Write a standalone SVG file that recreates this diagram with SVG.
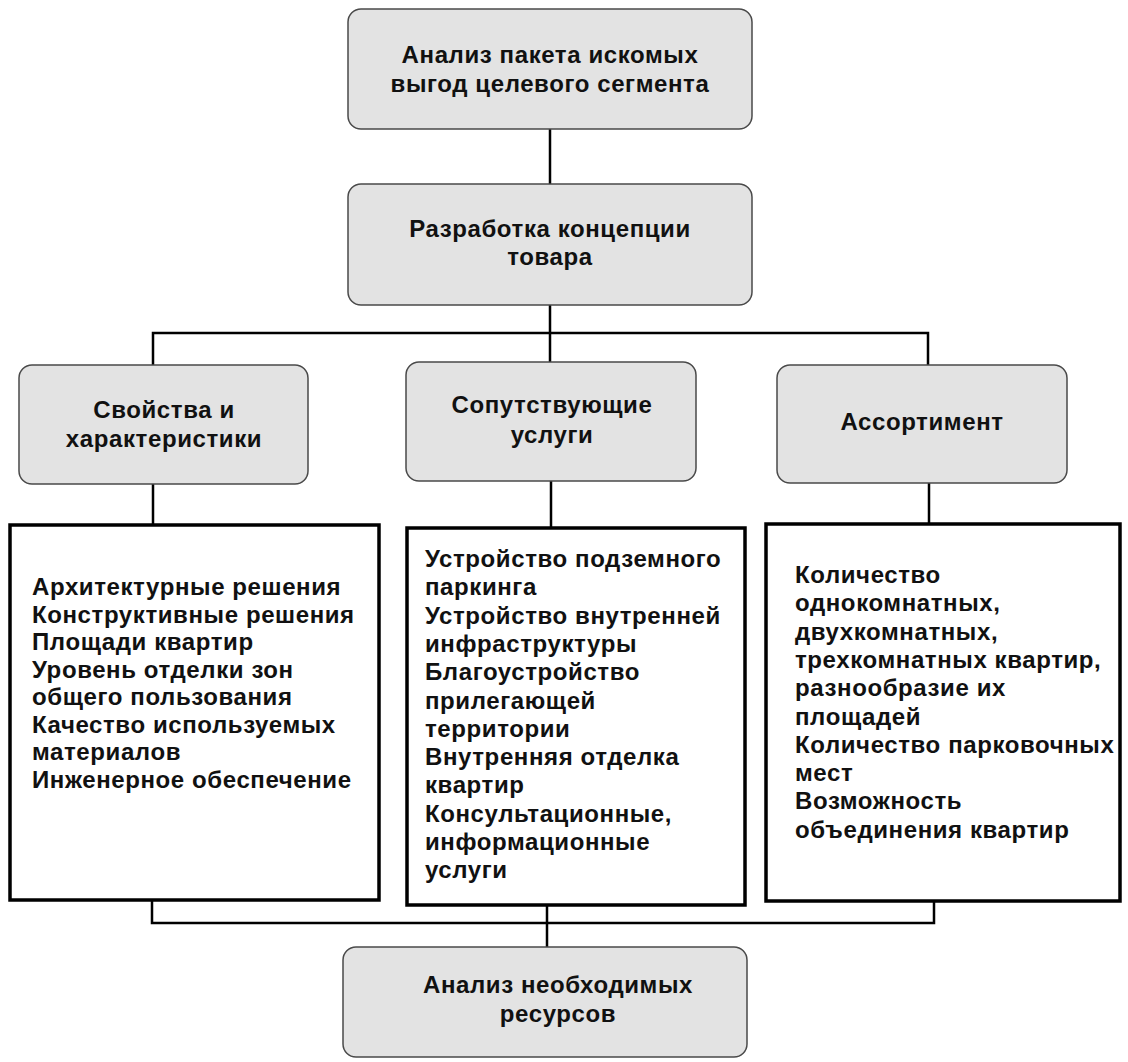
<svg xmlns="http://www.w3.org/2000/svg" width="1128" height="1062" viewBox="0 0 1128 1062">
<style>
.hb{fill:#e3e3e3;stroke:#4a4a4a;stroke-width:1.5}
.cb{fill:#fff;stroke:#000;stroke-width:3.5}
.ln{fill:none;stroke:#000;stroke-width:2.5}
text{font-family:"Liberation Sans",Arial,sans-serif;font-weight:bold;font-size:24px;letter-spacing:0.6px;fill:#111}
.c{text-anchor:middle}
</style>
<rect width="1128" height="1062" fill="#fff"/>
<g id="connectors">
<path class="ln" d="M550 129V184"/>
<path class="ln" d="M550 305V333M153 365V333H928V365M550 333V362"/>
<path class="ln" d="M153 484V525M551 481V528M929 483V524"/>
<path class="ln" d="M152 900V923H934V901M547 905V947"/>
</g>
<g id="n1">
<rect class="hb" x="348" y="9" width="404" height="120" rx="13"/>
<text class="c" x="550" y="63">Анализ пакета искомых</text>
<text class="c" x="550" y="92">выгод целевого сегмента</text>
</g>
<g id="n2">
<rect class="hb" x="348" y="184" width="404" height="121" rx="13"/>
<text class="c" x="550" y="237">Разработка концепции</text>
<text class="c" x="550" y="265">товара</text>
</g>
<g id="n3">
<rect class="hb" x="19" y="365" width="289" height="119" rx="13"/>
<text class="c" x="164" y="418">Свойства и</text>
<text class="c" x="164" y="447">характеристики</text>
</g>
<g id="n4">
<rect class="hb" x="406" y="362" width="290" height="119" rx="13"/>
<text class="c" x="552" y="413">Сопутствующие</text>
<text class="c" x="552" y="443">услуги</text>
</g>
<g id="n5">
<rect class="hb" x="777" y="365" width="290" height="118" rx="13"/>
<text class="c" x="922" y="430">Ассортимент</text>
</g>
<g id="n6">
<rect class="cb" x="10" y="525" width="369" height="375"/>
<text x="32" y="595">Архитектурные решения</text>
<text x="32" y="622.5">Конструктивные решения</text>
<text x="32" y="650">Площади квартир</text>
<text x="32" y="677.5">Уровень отделки зон</text>
<text x="32" y="705">общего пользования</text>
<text x="32" y="732.5">Качество используемых</text>
<text x="32" y="760">материалов</text>
<text x="32" y="787.5">Инженерное обеспечение</text>
</g>
<g id="n7">
<rect class="cb" x="407" y="528" width="338" height="377"/>
<text x="425" y="567">Устройство подземного</text>
<text x="425" y="595.3">паркинга</text>
<text x="425" y="623.6">Устройство внутренней</text>
<text x="425" y="651.9">инфраструктуры</text>
<text x="425" y="680.2">Благоустройство</text>
<text x="425" y="708.5">прилегающей</text>
<text x="425" y="736.8">территории</text>
<text x="425" y="765.1">Внутренняя отделка</text>
<text x="425" y="793.4">квартир</text>
<text x="425" y="821.7">Консультационные,</text>
<text x="425" y="850">информационные</text>
<text x="425" y="878.3">услуги</text>
</g>
<g id="n8">
<rect class="cb" x="766" y="524" width="354" height="377"/>
<text x="795" y="583">Количество</text>
<text x="795" y="611.3">однокомнатных,</text>
<text x="795" y="639.6">двухкомнатных,</text>
<text x="795" y="667.9">трехкомнатных квартир,</text>
<text x="795" y="696.2">разнообразие их</text>
<text x="795" y="724.5">площадей</text>
<text x="795" y="752.8">Количество парковочных</text>
<text x="795" y="781.1">мест</text>
<text x="795" y="809.4">Возможность</text>
<text x="795" y="837.7">объединения квартир</text>
</g>
<g id="n9">
<rect class="hb" x="343" y="947" width="404" height="110" rx="13"/>
<text class="c" x="558" y="993">Анализ необходимых</text>
<text class="c" x="558" y="1022">ресурсов</text>
</g>
</svg>
